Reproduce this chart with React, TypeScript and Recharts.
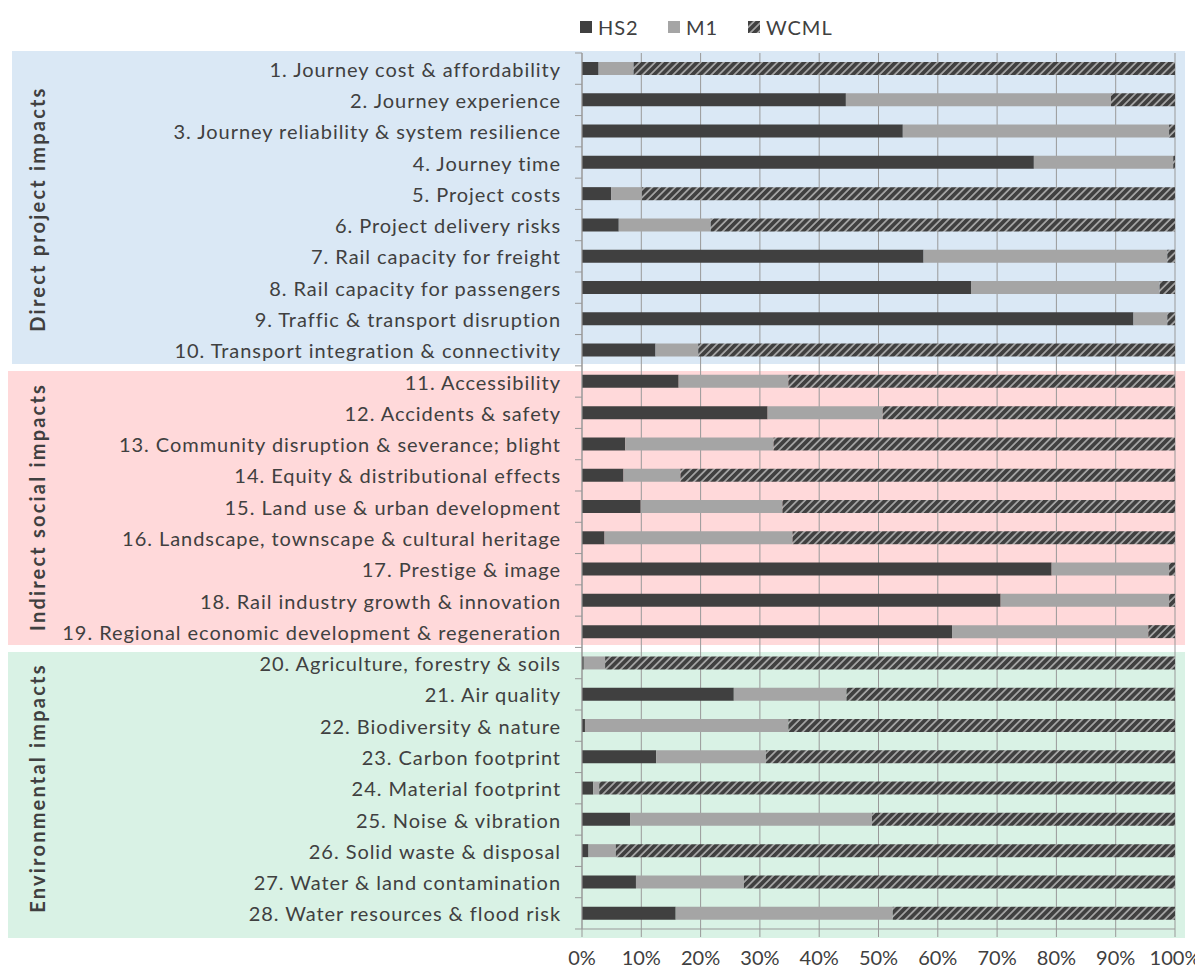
import React from 'react';
import { BarChart, Bar, XAxis, YAxis, CartesianGrid, Legend } from 'recharts';

const categories = [
  '1. Journey cost & affordability',
  '2. Journey experience',
  '3. Journey reliability & system resilience',
  '4. Journey time',
  '5. Project costs',
  '6. Project delivery risks',
  '7. Rail capacity for freight',
  '8. Rail capacity for passengers',
  '9. Traffic & transport disruption',
  '10. Transport integration & connectivity',
  '11. Accessibility',
  '12. Accidents & safety',
  '13. Community disruption & severance; blight',
  '14. Equity & distributional effects',
  '15. Land use & urban development',
  '16. Landscape, townscape & cultural heritage',
  '17. Prestige & image',
  '18. Rail industry growth & innovation',
  '19. Regional economic development & regeneration',
  '20. Agriculture, forestry & soils',
  '21. Air quality',
  '22. Biodiversity & nature',
  '23. Carbon footprint',
  '24. Material footprint',
  '25. Noise & vibration',
  '26. Solid waste & disposal',
  '27. Water & land contamination',
  '28. Water resources & flood risk',
];

const hs2 = [
  2.8, 44.5, 54.1, 76.2, 4.9, 6.2, 57.6, 65.6, 93.0, 12.4,
  16.3, 31.3, 7.3, 7.0, 9.9, 3.8, 79.2, 70.6, 62.4,
  0.3, 25.6, 0.5, 12.5, 1.9, 8.1, 1.1, 9.1, 15.8,
];

const m1 = [
  5.9, 44.7, 44.9, 23.5, 5.2, 15.5, 41.1, 31.8, 5.7, 7.2,
  18.5, 19.4, 25.0, 9.6, 23.9, 31.7, 19.8, 28.4, 33.1,
  3.6, 19.0, 34.3, 18.5, 1.0, 40.8, 4.6, 18.2, 36.6,
];

const wcml = [
  91.3, 10.8, 1.0, 0.3, 89.9, 78.3, 1.3, 2.6, 1.3, 80.4,
  65.2, 49.3, 67.7, 83.4, 66.2, 64.5, 1.0, 1.0, 4.5,
  96.1, 55.4, 65.2, 69.0, 97.1, 51.1, 94.3, 72.7, 47.6,
];

const xTicks = [0, 10, 20, 30, 40, 50, 60, 70, 80, 90, 100];

const groups = [
  { label: 'Direct project impacts', first: 0, last: 9, color: '#dae8f5' },
  { label: 'Indirect social impacts', first: 10, last: 18, color: '#ffd9da' },
  { label: 'Environmental impacts', first: 19, last: 27, color: '#d9f2e5' },
];

const data = categories.map((name, i) => ({
  name,
  HS2: hs2[i],
  M1: m1[i],
  WCML: wcml[i],
}));

const W = 1195;
const H = 960;
const PLOT_LEFT = 574;
const PLOT_RIGHT = 1167;
const PLOT_TOP = 45;
const PLOT_BOTTOM = 921;
const ROW = (PLOT_BOTTOM - PLOT_TOP) / categories.length;
const FONT = 'Lato, "Noto Sans", sans-serif';
const TEXT = '#404040';
const GRID = '#999999';
const DARK = '#404040';
const LIGHT = '#a5a5a5';

const CategoryTick = (props: any) => {
  const { x, y, payload, index } = props;
  const half = ROW / 2;
  return (
    <g>
      <text
        x={x - 21}
        y={y}
        textAnchor="end"
        dominantBaseline="central"
        fontSize={20}
        fontFamily={FONT}
        letterSpacing={0.95}
        fill={TEXT}
      >
        {payload.value}
      </text>
      <line x1={x - 7} x2={x} y1={y - half} y2={y - half} stroke={GRID} />
      {index === categories.length - 1 && (
        <line x1={x - 7} x2={x} y1={y + half} y2={y + half} stroke={GRID} />
      )}
    </g>
  );
};

const legendItems = [
  { name: 'HS2', fill: DARK, left: 0 },
  { name: 'M1', fill: LIGHT, left: 88 },
  { name: 'WCML', fill: 'url(#wcmlHatch)', left: 168 },
];

const LegendContent = () => (
  <div style={{ position: 'relative', height: 30, fontFamily: FONT }}>
    {legendItems.map((it) => (
      <div
        key={it.name}
        style={{
          position: 'absolute',
          left: it.left,
          top: 0,
          height: 30,
          display: 'flex',
          alignItems: 'center',
        }}
      >
        <svg width={12} height={12} style={{ marginRight: 6 }}>
          <rect width={12} height={12} fill={it.fill} />
        </svg>
        <span style={{ fontSize: 20, color: TEXT, letterSpacing: 1 }}>{it.name}</span>
      </div>
    ))}
  </div>
);

export default function App() {
  return (
    <div style={{ position: 'relative', width: W, height: H, fontFamily: FONT }}>
      {groups.map((g, i) => {
        const top = PLOT_TOP + g.first * ROW + (i === 0 ? -2 : 5);
        const bottom = PLOT_TOP + (g.last + 1) * ROW + (i === groups.length - 1 ? 9 : -2);
        const left = i === 0 ? 4 : 0;
        return (
          <div
            key={g.label}
            style={{
              position: 'absolute',
              left,
              top,
              width: 1177 - left,
              height: bottom - top,
              background: g.color,
            }}
          />
        );
      })}
      {groups.map((g) => {
        const top = PLOT_TOP + g.first * ROW;
        const bottom = PLOT_TOP + (g.last + 1) * ROW;
        return (
          <div
            key={g.label + '-label'}
            style={{
              position: 'absolute',
              left: 29,
              top: (top + bottom) / 2,
              transform: 'translate(-50%, -50%) rotate(-90deg)',
              whiteSpace: 'nowrap',
              fontWeight: 'bold',
              fontSize: 20,
              letterSpacing: 2.2,
              color: TEXT,
            }}
          >
            {g.label}
          </div>
        );
      })}
      <div style={{ position: 'relative' }}>
        <BarChart
          width={W}
          height={H}
          data={data}
          layout="vertical"
          margin={{ top: PLOT_TOP - 30, right: W - PLOT_RIGHT, bottom: 0, left: 0 }}
        >
          <defs>
            <pattern
              id="wcmlHatch"
              patternUnits="userSpaceOnUse"
              width={5.4}
              height={5.4}
              patternTransform="rotate(45)"
            >
              <rect width={5.4} height={5.4} fill="#a8a8a8" />
              <rect width={3.7} height={5.4} fill={DARK} />
            </pattern>
          </defs>
          <CartesianGrid horizontal={false} stroke={GRID} />
          <XAxis
            type="number"
            domain={[0, 100]}
            ticks={xTicks}
            interval={0}
            tickFormatter={(v) => `${v}%`}
            tickSize={8}
            tickMargin={14}
            height={H - PLOT_BOTTOM}
            axisLine={{ stroke: GRID }}
            tickLine={{ stroke: GRID }}
            tick={{ fontSize: 20, fill: TEXT, fontFamily: FONT }}
          />
          <YAxis
            type="category"
            dataKey="name"
            width={PLOT_LEFT}
            interval={0}
            tickSize={0}
            tickMargin={0}
            axisLine={{ stroke: GRID }}
            tickLine={false}
            tick={<CategoryTick />}
          />
          <Legend
            verticalAlign="top"
            height={30}
            content={<LegendContent />}
            wrapperStyle={{ top: 4, left: 572, width: 300 }}
          />
          <Bar dataKey="HS2" stackId="a" fill={DARK} barSize={13} isAnimationActive={false} />
          <Bar dataKey="M1" stackId="a" fill={LIGHT} barSize={13} isAnimationActive={false} />
          <Bar dataKey="WCML" stackId="a" fill="url(#wcmlHatch)" barSize={13} isAnimationActive={false} />
        </BarChart>
      </div>
    </div>
  );
}
